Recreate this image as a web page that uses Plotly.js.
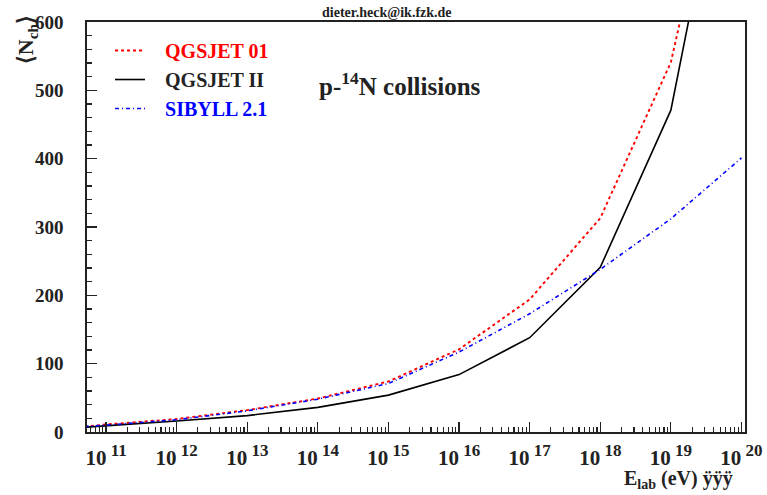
<!DOCTYPE html>
<html>
<head>
<meta charset="utf-8">
<script src="https://cdn.plot.ly/plotly-3.0.1.min.js"></script>
<style>html,body{margin:0;padding:0;background:#fff;}#chart{width:767px;height:495px;}</style>
</head>
<body>
<div id="chart"></div>
<script>
// Energy (eV)
const energy = [5e10, 1e11, 1e12, 1e13, 1e14, 1e15, 1e16, 1e17, 1e18, 1e19, 1e20];
// Mean charged multiplicity <N_ch>
const qgsjet01 = [8, 11, 19, 32, 49, 74, 121, 194, 313, 541, 1000];
const qgsjet2  = [7, 9, 16, 24, 36, 54, 84, 138, 241, 471, 990];
const sibyll21 = [8, 10, 18, 31, 48, 71, 117, 173, 238, 312, 401];

const seriesNames = ['QGSJET 01', 'QGSJET II', 'SIBYLL 2.1'];
const seriesColors = ['#ff0000', '#000000', '#0000ff'];
const xTickVals = [1e11, 1e12, 1e13, 1e14, 1e15, 1e16, 1e17, 1e18, 1e19, 1e20];
const xTickExp = ['11','12','13','14','15','16','17','18','19','20'];
const xTickText = xTickExp.map(e => '10<sup><span style="font-size:17px"> ' + e + '</span></sup>');

const FONT = 'Liberation Serif, Times New Roman, serif';
const NB = '\u00A0\u00A0\u00A0';
const legendLabel = i => NB + '<span style="color:' + (i === 1 ? '#222' : seriesColors[i]) + '">' + seriesNames[i] + '</span>';

const traces = [
  {x: energy, y: qgsjet01, name: legendLabel(0), mode: 'lines',
   line: {color: seriesColors[0], width: 1.9, dash: '3px,3px'}},
  {x: energy, y: qgsjet2, name: legendLabel(1), mode: 'lines',
   line: {color: seriesColors[1], width: 1.6}},
  {x: energy, y: sibyll21, name: legendLabel(2), mode: 'lines',
   line: {color: seriesColors[2], width: 1.6, dash: '4px,3px,1px,3px'}}
];

const layout = {
  width: 767, height: 495,
  margin: {l: 87, r: 22, t: 22, b: 63},
  paper_bgcolor: '#ffffff', plot_bgcolor: '#ffffff',
  font: {family: FONT, color: '#222', weight: 'bold'},
  showlegend: true,
  legend: {x: 0.035, y: 0.978, xanchor: 'left', yanchor: 'top',
    bgcolor: 'rgba(0,0,0,0)', borderwidth: 0,
    font: {family: FONT, size: 20, weight: 'bold', color: '#222'},
    tracegroupgap: 0, itemwidth: 30},
  xaxis: {
    type: 'log', range: [10.73, 20.05],
    tickmode: 'array', tickvals: xTickVals, ticktext: xTickText,
    ticks: 'inside', ticklen: 10, tickwidth: 1.2, tickcolor: '#222',
    showline: true, linecolor: '#222', linewidth: 1.6, mirror: true,
    showgrid: false, zeroline: false,
    tickfont: {family: FONT, size: 21, weight: 'bold', color: '#222'},
    ticklabelstandoff: 6,
    minor: {ticks: 'inside', ticklen: 5, tickwidth: 1.1, tickcolor: '#222', dtick: 'D1', showgrid: false}
  },
  yaxis: {
    range: [0, 600], dtick: 100,
    ticks: 'inside', ticklen: 10, tickwidth: 1.2, tickcolor: '#222',
    showline: true, linecolor: '#222', linewidth: 1.6, mirror: true,
    showgrid: false, zeroline: false,
    tickfont: {family: FONT, size: 19, weight: 'bold', color: '#222'},
    ticklabelstandoff: 18,
    minor: {ticks: 'inside', ticklen: 5, tickwidth: 1.1, tickcolor: '#222', dtick: 20, showgrid: false}
  },
  annotations: [
    {xref: 'paper', yref: 'paper', x: 0.456, y: 1.024, xanchor: 'center', yanchor: 'middle',
     text: 'dieter.heck@ik.fzk.de', showarrow: false,
     font: {family: FONT, size: 14, weight: 'bold', color: '#222'}},
    {xref: 'paper', yref: 'paper', x: 0.3495, y: 0.849, xanchor: 'left', yanchor: 'middle',
     text: 'p-<sup>14</sup>N collisions', showarrow: false,
     font: {family: FONT, size: 25, weight: 'bold', color: '#222'}},
    {xref: 'paper', yref: 'paper', x: -0.091, y: 0.956, xanchor: 'center', yanchor: 'middle',
     text: '⟨N<sub>ch</sub>⟩', textangle: -90, showarrow: false,
     font: {family: FONT, size: 22, weight: 'bold', color: '#222'}},
    {xref: 'paper', yref: 'paper', x: 0.985, y: -0.117, xanchor: 'right', yanchor: 'middle',
     text: 'E<sub>lab</sub> (eV) ÿÿÿ', showarrow: false,
     font: {family: FONT, size: 20, weight: 'bold', color: '#222'}}
  ]
};

Plotly.newPlot('chart', traces, layout, {displayModeBar: false, staticPlot: true});
</script>
</body>
</html>
